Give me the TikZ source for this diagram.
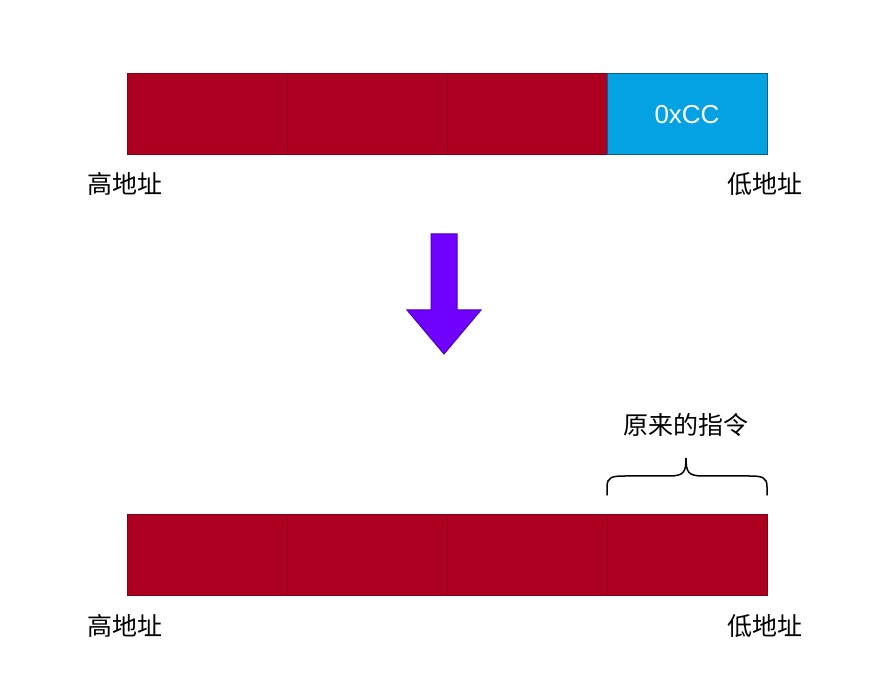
\documentclass[tikz,border=0pt]{standalone}
\usepackage{fontspec}
\setmainfont{Liberation Sans}
\newfontfamily\cjk{Noto Sans CJK SC}
\usetikzlibrary{calc}
\definecolor{cellred}{HTML}{AD0020}
\definecolor{cellredb}{HTML}{850018}
\definecolor{cellblue}{HTML}{04A2E2}
\definecolor{cellblueb}{HTML}{0A5E8C}
\definecolor{arrowfill}{HTML}{7000FF}
\definecolor{arrowline}{HTML}{5000C0}
\begin{document}
\begin{tikzpicture}[x=1pt,y=-1pt,
  cell/.style={draw=cellredb,fill=cellred,line width=1pt,minimum width=160pt,minimum height=81pt,inner sep=0pt,outer sep=0pt},
  bluecell/.style={cell,draw=cellblueb,fill=cellblue,text=white,font=\fontsize{26}{30}\selectfont},
  lbl/.style={font=\cjk\fontsize{25}{29}\selectfont,text=black,inner sep=0pt}]
\useasboundingbox (0,0) rectangle (892,684);
% top row
\node[cell] (t1) at (207,114.5) {};
\node[cell] (t2) at (367,114.5) {};
\node[cell] (t3) at (527,114.5) {};
\node[bluecell] (t4) at (687,114.5) {0xCC};
\node[lbl] (th) at (125,184) {高地址};
\node[lbl] (tl) at (765,184) {低地址};
% arrow
\draw[fill=arrowfill,draw=arrowline,line width=1pt,line join=miter]
  (431,234) -- (457,234) -- (457,310) -- (481,310) -- (444,354) -- (407,310) -- (431,310) -- cycle;
% bottom row
\node[cell] (b1) at (207,554.5) {};
\node[cell] (b2) at (367,554.5) {};
\node[cell] (b3) at (527,554.5) {};
\node[cell] (b4) at (687,554.5) {};
\node[lbl] (bh) at (125,626) {高地址};
\node[lbl] (bl) at (765,626) {低地址};
\node[lbl] (orig) at (686,425) {原来的指令};
% brace
\draw[line width=1.5pt,line cap=round]
  ($(b4.north west)+(0,-19)$) -- ($(b4.north west)+(0,-27)$)
  .. controls ($(b4.north west)+(0,-37)$) and ($(b4.north west)+(5,-38)$) .. ($(b4.north west)+(18,-38)$)
  -- ($(b4.north)+(-18,-38)$)
  .. controls ($(b4.north)+(-3,-38)$) and ($(b4.north)+(-1,-42)$) .. ($(b4.north)+(-1,-56)$)
  .. controls ($(b4.north)+(-1,-42)$) and ($(b4.north)+(1,-38)$) .. ($(b4.north)+(16,-38)$)
  -- ($(b4.north east)+(-18,-38)$)
  .. controls ($(b4.north east)+(-5,-38)$) and ($(b4.north east)+(0,-37)$) .. ($(b4.north east)+(0,-27)$)
  -- ($(b4.north east)+(0,-19)$);
\end{tikzpicture}
\end{document}
